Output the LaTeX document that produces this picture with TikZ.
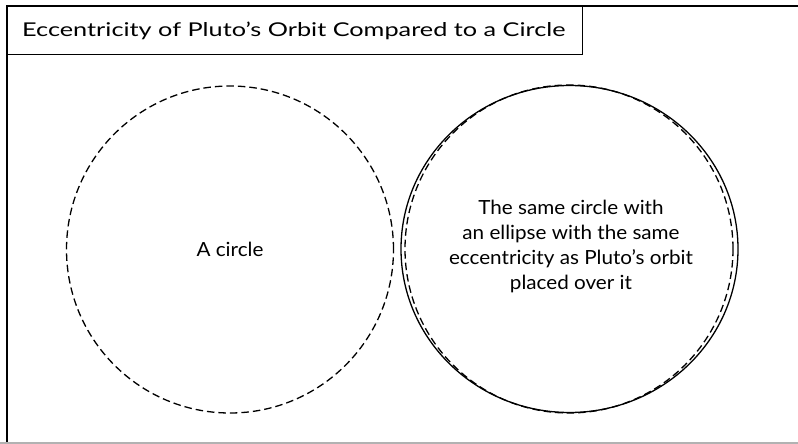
\documentclass[tikz,border=0pt]{standalone}
\usepackage{fontspec}
\setmainfont{Lato}
\newfontfamily\titlefont[FakeStretch=1.33]{Lato}
\newfontfamily\labelfont[FakeStretch=1.06]{Lato}
\usetikzlibrary{shapes.geometric}
\tikzset{
  frameline/.style={line width=1.3pt},
  orbitline/.style={draw, line width=1.3pt},
  dashline/.style={draw, line width=1.3pt, dash pattern=on 7.5pt off 4pt},
  bodytext/.style={font=\labelfont\fontsize{19.5}{25}\selectfont, align=center}
}

\begin{document}
\begin{tikzpicture}[x=1pt,y=-1pt]
\useasboundingbox (0,0) rectangle (798,444);
% outer frame
\draw[frameline] (7,443) -- (7,6) -- (798,6);
\draw[gray!60, line width=1.2pt] (0,443) -- (798,443);
% title
\node[draw, frameline, anchor=north west, minimum width=575pt, minimum height=48pt, inner sep=0pt] (titlebox) at (7,6) {};
\node[anchor=base west, inner sep=0pt, font=\titlefont\fontsize{19}{21}\selectfont] (title) at (22,37) {Eccentricity of Pluto’s Orbit Compared to a Circle};
% left: the circle alone
\node[circle, dashline, minimum size=327pt, inner sep=0pt, bodytext] (circleA) at (230,249.5) {A circle};
% right: the circle with the orbit ellipse over it
\node[ellipse, orbitline, minimum width=337pt, minimum height=327pt, inner sep=0pt] (orbit) at (569.5,249) {};
\node[circle, dashline, minimum size=328pt, inner sep=0pt] (circleB) at (569,249) {};
\node[bodytext, inner sep=0pt] (orbitlabel) at (571,246) {The same circle with\\an ellipse with the same\\eccentricity as Pluto’s orbit\\placed over it};
\end{tikzpicture}
\end{document}
